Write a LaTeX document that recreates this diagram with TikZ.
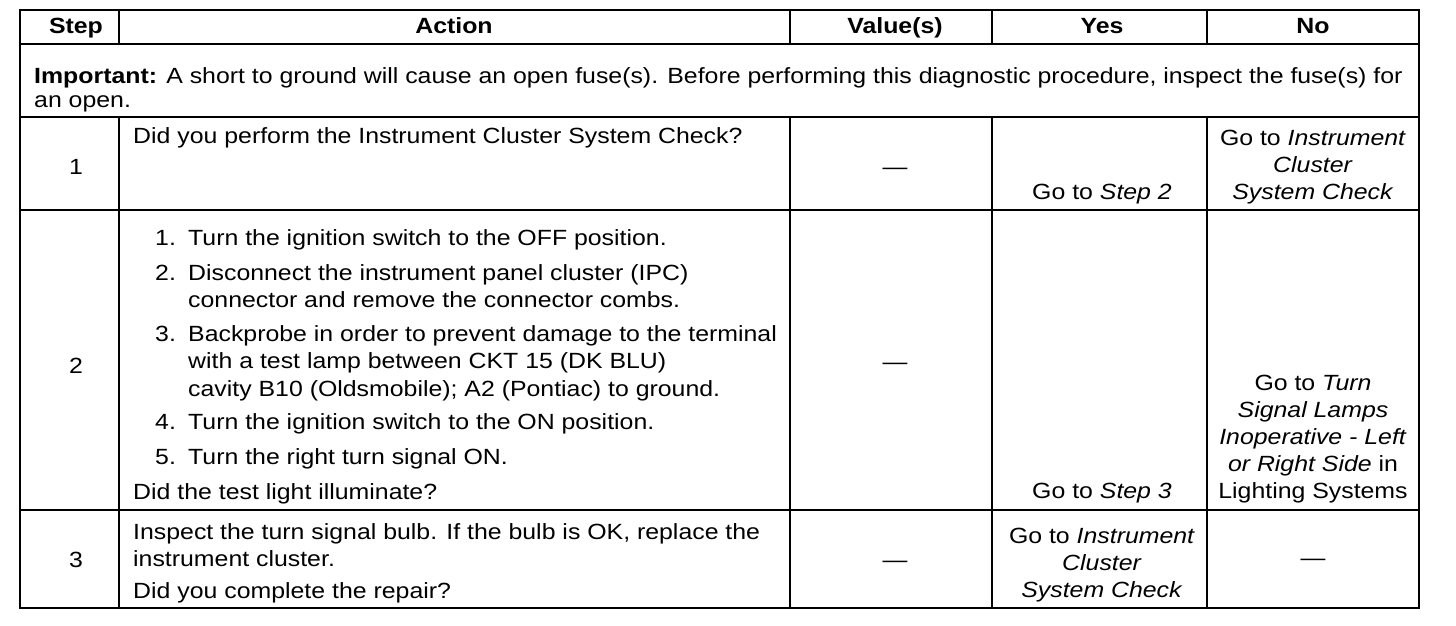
\documentclass[tikz,border=0pt]{standalone}
\usepackage{fontspec}
\setmainfont{Liberation Sans}[FakeStretch=1.13]
\begin{document}
\begin{tikzpicture}[x=1pt,y=-1pt,
  rule/.style={line width=2.8pt, line cap=rect},
  txt/.style={inner sep=0pt, anchor=base west, font=\fontsize{22}{27}\selectfont},
  ctr/.style={txt, anchor=base},
  hdr/.style={ctr, font=\fontsize{22}{27}\selectfont\bfseries}]
\useasboundingbox (0,0) rectangle (1456,626);
% grid
\draw[rule] (20,10) rectangle (1419,608);
\foreach \yy in {44,117,210,510} \draw[rule] (20,\yy) -- (1419,\yy);
\foreach \xx in {119,790,992,1207} {
  \draw[rule] (\xx,10) -- (\xx,44);
  \draw[rule] (\xx,117) -- (\xx,608);
}
% header
\node[hdr] (hStep) at (76,34) {Step};
\node[hdr] (hAction) at (454,34) {Action};
\node[hdr] (hValue) at (895,34) {Value(s)};
\node[hdr] (hYes) at (1102,34) {Yes};
\node[hdr] (hNo) at (1313,34) {No};
% important
\node[txt] (imp1) at (34,83) {\textbf{Important:} A short to ground will cause an open fuse(s). Before performing this diagnostic procedure, inspect the fuse(s) for};
\node[txt] (imp2) at (34,107) {an open.};
% row 1
\node[ctr] (s1) at (76,174) {1};
\node[txt] (a1) at (133,143) {Did you perform the Instrument Cluster System Check?};
\node[ctr] (v1) at (895,174) {—};
\node[ctr] (y1) at (1102,199) {Go to \textit{Step 2}};
\node[ctr] (n1a) at (1313,145) {Go to \textit{Instrument}};
\node[ctr] (n1b) at (1313,172) {\textit{Cluster}};
\node[ctr] (n1c) at (1313,199) {\textit{System Check}};
% row 2
\node[ctr] (s2) at (76,373) {2};
\node[txt] (l1n) at (155,245) {1.};
\node[txt] (l1) at (188,245) {Turn the ignition switch to the OFF position.};
\node[txt] (l2n) at (155,280) {2.};
\node[txt] (l2a) at (188,280) {Disconnect the instrument panel cluster (IPC)};
\node[txt] (l2b) at (188,307) {connector and remove the connector combs.};
\node[txt] (l3n) at (155,341) {3.};
\node[txt] (l3a) at (188,341) {Backprobe in order to prevent damage to the terminal};
\node[txt] (l3b) at (188,368) {with a test lamp between CKT 15 (DK BLU)};
\node[txt] (l3c) at (188,396) {cavity B10 (Oldsmobile); A2 (Pontiac) to ground.};
\node[txt] (l4n) at (155,429) {4.};
\node[txt] (l4) at (188,429) {Turn the ignition switch to the ON position.};
\node[txt] (l5n) at (155,464) {5.};
\node[txt] (l5) at (188,464) {Turn the right turn signal ON.};
\node[txt] (a2) at (133,499) {Did the test light illuminate?};
\node[ctr] (v2) at (895,369) {—};
\node[ctr] (y2) at (1102,498) {Go to \textit{Step 3}};
\node[ctr] (n2a) at (1313,390) {Go to \textit{Turn}};
\node[ctr] (n2b) at (1313,417) {\textit{Signal Lamps}};
\node[ctr] (n2c) at (1313,444) {\textit{Inoperative - Left}};
\node[ctr] (n2d) at (1313,471) {\textit{or Right Side} in};
\node[ctr] (n2e) at (1313,498) {Lighting Systems};
% row 3
\node[ctr] (s3) at (76,567) {3};
\node[txt] (a3a) at (133,539) {Inspect the turn signal bulb. If the bulb is OK, replace the};
\node[txt] (a3b) at (133,566) {instrument cluster.};
\node[txt] (a3c) at (133,598) {Did you complete the repair?};
\node[ctr] (v3) at (895,567) {—};
\node[ctr] (y3a) at (1102,543) {Go to \textit{Instrument}};
\node[ctr] (y3b) at (1102,570) {\textit{Cluster}};
\node[ctr] (y3c) at (1102,597) {\textit{System Check}};
\node[ctr] (n3) at (1313,565) {—};
\end{tikzpicture}
\end{document}
